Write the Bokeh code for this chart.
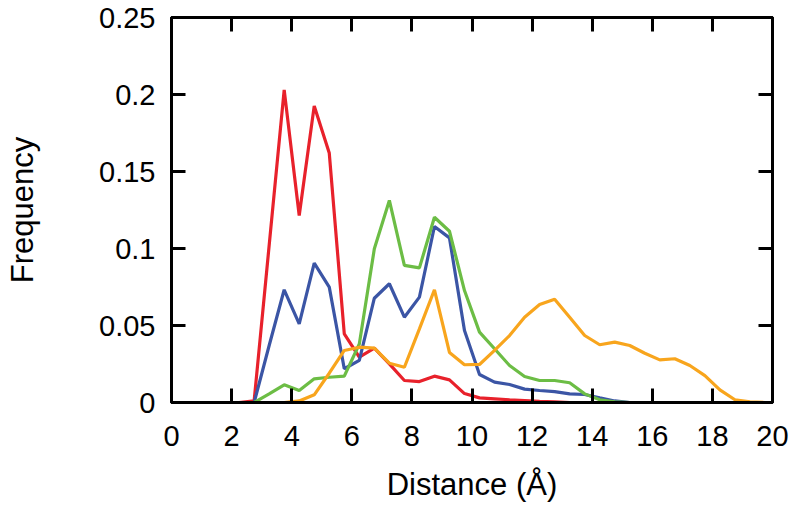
from bokeh.plotting import figure
from bokeh.models import LinearAxis, FixedTicker, Range1d
from bokeh.embed import file_html
from bokeh.resources import INLINE

# Bin centres (Å) and frequencies per series
x_red = [2.25, 2.75, 3.25, 3.75, 4.25, 4.75, 5.25, 5.75, 6.25, 6.75, 7.25, 7.75, 8.25, 8.75, 9.25,
         9.75, 10.25, 10.75, 11.25, 11.75, 12.25, 12.75, 13.25]
y_red = [0.0, 0.001, 0.102, 0.203, 0.1214, 0.1926, 0.162, 0.0446, 0.0294, 0.0353, 0.0251, 0.0143,
         0.0136, 0.0171, 0.0147, 0.0058, 0.003, 0.0024, 0.0018, 0.0013, 0.0008, 0.0004, 0.0]

x_blue = [2.75, 3.25, 3.75, 4.25, 4.75, 5.25, 5.75, 6.25, 6.75, 7.25, 7.75, 8.25, 8.75, 9.25, 9.75,
          10.25, 10.75, 11.25, 11.75, 12.25, 12.75, 13.25, 13.75, 14.25, 14.75, 15.25]
y_blue = [0.0, 0.037, 0.0732, 0.0511, 0.0905, 0.0749, 0.0219, 0.0273, 0.0677, 0.0771, 0.0554, 0.0684,
          0.1143, 0.1069, 0.0468, 0.0182, 0.0132, 0.0117, 0.0087, 0.0078, 0.0071, 0.0056, 0.0052,
          0.003, 0.001, 0.0]

x_green = [2.75, 3.25, 3.75, 4.25, 4.75, 5.25, 5.75, 6.25, 6.75, 7.25, 7.75, 8.25, 8.75, 9.25, 9.75,
           10.25, 10.75, 11.25, 11.75, 12.25, 12.75, 13.25, 13.75, 14.25, 14.75, 15.25]
y_green = [0.0, 0.0056, 0.0115, 0.0078, 0.0154, 0.0164, 0.0171, 0.038, 0.0998, 0.1312, 0.089, 0.0874,
           0.1203, 0.1112, 0.0727, 0.0457, 0.0349, 0.024, 0.0169, 0.0143, 0.0143, 0.0128, 0.0056,
           0.0018, 0.0005, 0.0]

x_orange = [3.25, 3.75, 4.25, 4.75, 5.25, 5.75, 6.25, 6.75, 7.25, 7.75, 8.25, 8.75, 9.25, 9.75, 10.25,
            10.75, 11.25, 11.75, 12.25, 12.75, 13.25, 13.75, 14.25, 14.75, 15.25, 15.75, 16.25, 16.75,
            17.25, 17.75, 18.25, 18.75, 19.25, 19.75]
y_orange = [0.0, 0.0, 0.001, 0.005, 0.019, 0.0338, 0.0359, 0.0353, 0.0255, 0.0229, 0.0478, 0.0732,
            0.0325, 0.0245, 0.0247, 0.0338, 0.0435, 0.0554, 0.0636, 0.0671, 0.0554, 0.0435, 0.0375,
            0.0392, 0.037, 0.032, 0.0277, 0.0284, 0.024, 0.0175, 0.0082, 0.0018, 0.0005, 0.0]

x_ticks = [0, 2, 4, 6, 8, 10, 12, 14, 16, 18, 20]
y_ticks = [0, 0.05, 0.1, 0.15, 0.2, 0.25]
y_tick_labels = ["0", "0.05", "0.1", "0.15", "0.2", "0.25"]

FONT = "Liberation Sans"
FS_TICK = "29px"
FS_TITLE = "31px"

p = figure(width=792, height=500, output_backend="svg", toolbar_location=None,
           x_range=Range1d(0, 20), y_range=Range1d(0, 0.25),
           frame_width=601, frame_height=385,
           min_border_left=171, min_border_right=20, min_border_top=17, min_border_bottom=98,
           x_axis_label="Distance (Å)", y_axis_label="Frequency")
p.grid.visible = False
p.outline_line_color = "black"
p.outline_line_width = 3
p.background_fill_color = "white"
p.border_fill_color = "white"

series = [
    (x_red, y_red, "#e8212b"),
    (x_blue, y_blue, "#3b55a5"),
    (x_green, y_green, "#6cbd45"),
    (x_orange, y_orange, "#f8a51d"),
]
for xs, ys, c in series:
    p.line(xs, ys, line_color=c, line_width=3.2)

def style_axis(ax, ticks, show_labels):
    ax.ticker = FixedTicker(ticks=ticks)
    ax.major_tick_in = 14
    ax.major_tick_out = 0
    ax.minor_tick_in = 0
    ax.minor_tick_out = 0
    ax.major_tick_line_width = 3
    ax.major_tick_line_color = "black"
    ax.axis_line_width = 3
    ax.axis_line_color = "black"
    ax.major_label_text_font = FONT
    ax.major_label_text_font_size = FS_TICK
    ax.major_label_text_color = "black"
    ax.axis_label_text_font = FONT
    ax.axis_label_text_font_size = FS_TITLE
    ax.axis_label_text_font_style = "normal"
    ax.axis_label_text_color = "black"
    if not show_labels:
        ax.major_label_text_alpha = 0
        ax.major_label_text_font_size = "1px"

xa = p.xaxis[0]
style_axis(xa, x_ticks, True)
xa.major_label_standoff = 23
xa.axis_label_standoff = 18

ya = p.yaxis[0]
style_axis(ya, y_ticks, True)
ya.major_label_overrides = {v: l for v, l in zip(y_ticks, y_tick_labels)}
ya.major_label_standoff = 16
ya.axis_label_standoff = 56

top = LinearAxis()
style_axis(top, x_ticks, False)
p.add_layout(top, "above")
right = LinearAxis()
style_axis(right, y_ticks, False)
p.add_layout(right, "right")

open("out.html", "w").write(file_html(p, INLINE))
